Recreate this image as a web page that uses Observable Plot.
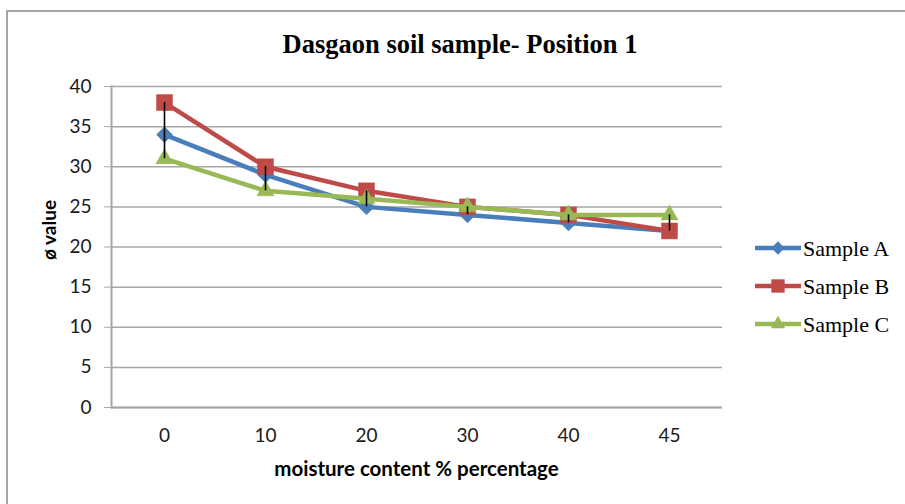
<!DOCTYPE html>
<html><head><meta charset="utf-8">
<script src="https://cdn.jsdelivr.net/npm/d3@7"></script>
<script src="https://cdn.jsdelivr.net/npm/@observablehq/plot@0.6"></script>
<style>
body{margin:0;background:#fff;}
#wrap{position:relative;width:905px;height:504px;overflow:hidden;background:#fff;}
#frame{position:absolute;left:6px;top:10px;width:1000px;height:600px;border-left:2px solid #a6a6a6;border-top:2px solid #a6a6a6;}
#chart{position:absolute;left:0;top:0;}
#title{position:absolute;left:0;width:920px;top:29px;text-align:center;font:bold 26.5px "Liberation Serif",serif;color:#000;}
#xlabel{position:absolute;left:111px;width:611px;top:456px;text-align:center;font:bold 20.5px Lato,sans-serif;color:#000;}
#ylabel{position:absolute;left:48px;top:230px;transform:translate(-50%,-50%) rotate(-90deg);font:bold 19px Lato,sans-serif;color:#000;white-space:nowrap;}
#legend{position:absolute;left:750px;top:230px;}
</style></head>
<body>
<div id="wrap">
<div id="frame"></div>
<div id="chart"></div>
<div id="title">Dasgaon soil sample- Position 1</div>
<div id="ylabel">ø value</div>
<div id="xlabel">moisture content % percentage</div>
<div id="legend"></div>
</div>
<script>
const moisture = ["0","10","20","30","40","45"];
const seriesNames = ["Sample A","Sample B","Sample C"];
const sampleA = [34,29,25,24,23,22];
const sampleB = [38,30,27,25,24,22];
const sampleC = [31,27,26,25,24,24];
const yTicks = [0,5,10,15,20,25,30,35,40];
const colors = ["#4A7EBB","#BE4B48","#98B954"];
const symbols = ["diamond2","square","triangle"];
const symbolR = [7.2,9,6.4];

const seriesValues = [sampleA,sampleB,sampleC];
const rows = [];
seriesValues.forEach((vals,s)=>vals.forEach((v,i)=>rows.push({x:moisture[i],y:v,series:seriesNames[s]})));
const hilo = moisture.map((m,i)=>({x:m,lo:Math.min(...seriesValues.map(a=>a[i])),hi:Math.max(...seriesValues.map(a=>a[i]))}));

const marks = [
  Plot.gridY(yTicks,{stroke:"#a6a6a6",strokeOpacity:1,strokeWidth:1.5}),
  Plot.axisY(yTicks,{tickSize:7,tickPadding:13,stroke:"#a6a6a6",label:null,fontSize:19}),
  Plot.axisX({tickSize:0,tickPadding:21,label:null,fontSize:19}),
  Plot.ruleY([0],{stroke:"#a6a6a6",strokeWidth:2}),
  Plot.frame({anchor:"left",stroke:"#a6a6a6",strokeWidth:2})
];
seriesNames.forEach((name,s)=>{
  marks.push(Plot.line(rows.filter(d=>d.series===name),{x:"x",y:"y",stroke:colors[s],strokeWidth:4.5}));
  marks.push(Plot.dot(rows.filter(d=>d.series===name),{x:"x",y:"y",fill:colors[s],symbol:symbols[s],r:symbolR[s],stroke:colors[s],strokeWidth:0.5}));
});
marks.push(Plot.ruleX(hilo,{x:"x",y1:"lo",y2:"hi",stroke:"#000",strokeWidth:1.6}));

const chart = Plot.plot({
  width:905,height:504,
  marginLeft:111,marginRight:183,marginTop:86,marginBottom:97,
  x:{type:"point",domain:moisture,padding:0.5},
  y:{domain:[0,40]},
  style:{fontFamily:"Lato, sans-serif",fontSize:"19px",color:"#1a1a1a",background:"transparent"},
  marks
});
document.getElementById("chart").appendChild(chart);

// legend
const ns="http://www.w3.org/2000/svg";
const lg=document.createElementNS(ns,"svg");
lg.setAttribute("width",155);lg.setAttribute("height",110);
seriesNames.forEach((name,s)=>{
  const cy=18+s*38;
  const g=document.createElementNS(ns,"g");
  const l=document.createElementNS(ns,"line");
  l.setAttribute("x1",5);l.setAttribute("x2",51);l.setAttribute("y1",cy);l.setAttribute("y2",cy);
  l.setAttribute("stroke",colors[s]);l.setAttribute("stroke-width",4.5);
  g.appendChild(l);
  const p=document.createElementNS(ns,"path");
  const sym={diamond2:d3.symbolDiamond2,square:d3.symbolSquare,triangle:d3.symbolTriangle}[symbols[s]];
  p.setAttribute("d",d3.symbol(sym,Math.PI*symbolR[s]*symbolR[s]*0.7)());
  p.setAttribute("transform",`translate(28,${cy})`);
  p.setAttribute("fill",colors[s]);
  g.appendChild(p);
  const t=document.createElementNS(ns,"text");
  t.setAttribute("x",53);t.setAttribute("y",cy);t.setAttribute("dy","0.35em");
  t.setAttribute("font-family","Liberation Serif, serif");t.setAttribute("font-size",22);
  t.textContent=name;
  g.appendChild(t);
  lg.appendChild(g);
});
document.getElementById("legend").appendChild(lg);
</script>
</body></html>
